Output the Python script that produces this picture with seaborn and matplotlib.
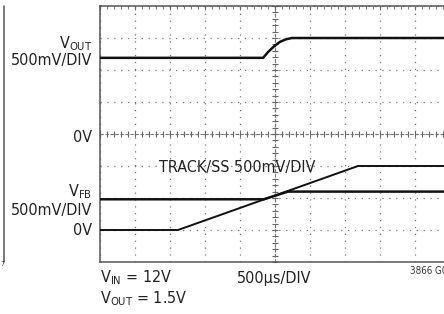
import numpy as np
import pandas as pd
import seaborn as sns
import matplotlib.pyplot as plt
from matplotlib.ticker import MultipleLocator

# time in microseconds (500us/DIV), voltages in volts (500mV/DIV)
vout_t = [0, 2330, 2400, 2486, 2571, 2657, 2743, 5000]
vout_v = [1.19, 1.19, 1.28, 1.37, 1.44, 1.48, 1.50, 1.50]

vfb_t = [0, 2340, 2686, 5000]
vfb_v = [0.48, 0.48, 0.60, 0.60]

track_t = [0, 1114, 3686, 5000]
track_v = [0.0, 0.0, 1.0, 1.0]

VOLT_PER_DIV = 0.5
US_PER_DIV = 500
VOUT_ZERO = 4   # division of the VOUT 0V marker
FB_ZERO = 1     # division of the VFB / TRACK 0V marker

sns.set_style("white")
plt.rcParams['font.family'] = ['DejaVu Sans']
plt.rcParams['font.stretch'] = 'condensed'
plt.rcParams['mathtext.default'] = 'regular'

W, H = 444, 314
fig = plt.figure(figsize=(W / 100, H / 100), dpi=100)
# plot box spans x 100..450 px, y 6..262 px (right side is cut off)
ax = fig.add_axes([100 / W, 52 / H, 350 / W, 256 / H])

frames = []
for name, t, v, zero in [("vout", vout_t, vout_v, VOUT_ZERO),
                         ("vfb", vfb_t, vfb_v, FB_ZERO),
                         ("track", track_t, track_v, FB_ZERO)]:
    frames.append(pd.DataFrame({"t": t,
                                "div": zero + np.array(v) / VOLT_PER_DIV,
                                "trace": name}))
df = pd.concat(frames, ignore_index=True)

for name, lw in [("vout", 1.8), ("vfb", 1.8), ("track", 1.4)]:
    sns.lineplot(data=df[df.trace == name], x="t", y="div", ax=ax,
                 color="#111111", lw=lw, sort=False, estimator=None,
                 legend=False, zorder=5)

ax.set_xlim(0, 10 * US_PER_DIV)
ax.set_ylim(0, 8)
ax.xaxis.set_major_locator(MultipleLocator(US_PER_DIV))
ax.yaxis.set_major_locator(MultipleLocator(1))
ax.xaxis.set_minor_locator(MultipleLocator(US_PER_DIV / 5))
ax.yaxis.set_minor_locator(MultipleLocator(0.2))
ax.grid(True, which='major', color="#777777", lw=0.9, ls=(0, (1, 4.5)))
ax.tick_params(which='both', direction='in', top=True, right=True,
               labelbottom=False, labelleft=False, color="#666666")
ax.tick_params(which='major', length=3)
ax.tick_params(which='minor', length=2.5)
ax.set_xlabel("")
ax.set_ylabel("")
for spine in ax.spines.values():
    spine.set_edgecolor("#555555")
    spine.set_linewidth(1.1)

# centre graticule lines with small cross ticks
cx = 5 * US_PER_DIV
ax.axhline(4, color="#777777", lw=0.8, ls=(0, (3, 1.5)), zorder=2)
ax.axvline(cx, color="#777777", lw=0.8, ls=(0, (3, 1.5)), zorder=2)
ax.plot(np.arange(0, 10 * US_PER_DIV + 1, US_PER_DIV / 5), np.full(51, 4.0),
        ls='none', marker='|', ms=4, mew=0.8, color="#666666", zorder=2)
ax.plot(np.full(41, cx), np.arange(0, 8.01, 0.2),
        ls='none', marker='_', ms=4, mew=0.8, color="#666666", zorder=2)


def px(x, y):
    return x / W, 1 - y / H


fs = 11.5
txt = dict(color="#222222", fontsize=fs, va='baseline')
fig.text(*px(92, 48), r"V$_{OUT}$", ha='right', **txt)
fig.text(*px(92, 65), "500mV/DIV", ha='right', **txt)
fig.text(*px(92, 142), "0V", ha='right', **txt)
fig.text(*px(92, 196), r"V$_{FB}$", ha='right', **txt)
fig.text(*px(92, 215), "500mV/DIV", ha='right', **txt)
fig.text(*px(92, 235), "0V", ha='right', **txt)
fig.text(*px(159, 172), "TRACK/SS 500mV/DIV", ha='left', **txt)
fig.text(*px(100, 282), r"V$_{IN}$ = 12V", ha='left', **txt)
fig.text(*px(100, 303), r"V$_{OUT}$ = 1.5V", ha='left', **txt)
fig.text(*px(237, 283), "500µs/DIV", ha='left', **txt)
fig.text(*px(410, 274), "3866 G07", ha='left', color="#333333",
         fontsize=7, va='baseline')

# edge of the neighbouring panel on the left
fig.add_artist(plt.Line2D([4 / W, 4 / W], [1 - 6 / H, 1 - 262 / H],
                          color="#555555", lw=1.1))
fig.text(*px(0, 266), "7", ha='left', color="#333333", fontsize=5,
         va='baseline')

fig.savefig("out.png", dpi=100)
